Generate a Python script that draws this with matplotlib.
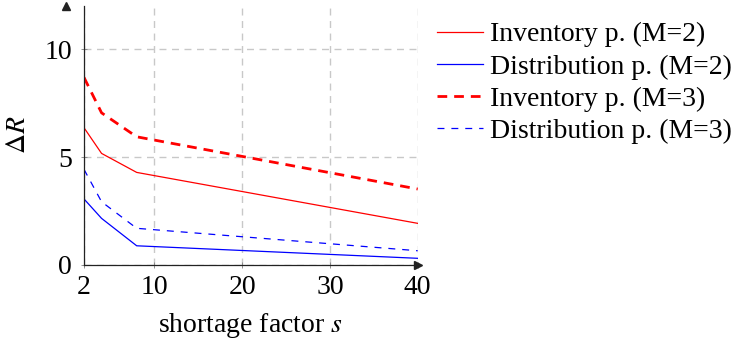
import matplotlib
matplotlib.use("Agg")
import matplotlib.pyplot as plt

plt.rcParams['font.family'] = ['Liberation Serif', 'DejaVu Serif']
plt.rcParams['mathtext.fontset'] = 'stix'
plt.rcParams['lines.scale_dashes'] = False

s_values = [2, 4, 8, 40]
inv_m2 = [6.36, 5.17, 4.29, 1.93]
dist_m2 = [3.06, 2.16, 0.89, 0.31]
inv_m3 = [8.69, 7.05, 5.94, 3.52]
dist_m3 = [4.43, 2.93, 1.70, 0.66]
labels = ["Inventory p. (M=2)", "Distribution p. (M=2)",
          "Inventory p. (M=3)", "Distribution p. (M=3)"]
x_ticks = [2, 10, 20, 30, 40]
y_ticks = [0, 5, 10]

FS = 20
fig = plt.figure(figsize=(7.45, 3.43), dpi=100)
ax_left, ax_right, ax_bottom_px, ax_top_px = 84, 417.7, 265, 6
ax = fig.add_axes([ax_left/745, (343-ax_bottom_px)/343, (ax_right-ax_left)/745,
                   (ax_bottom_px-ax_top_px)/343])

ax.plot(s_values, inv_m2, color='#ff0000', lw=0.9, label=labels[0])
ax.plot(s_values, dist_m2, color='#0000ff', lw=0.9, label=labels[1])
ax.plot(s_values, inv_m3, color='#ff0000', lw=2.0, dashes=(7, 5), label=labels[2])
ax.plot(s_values, dist_m3, color='#0000ff', lw=0.9, dashes=(5, 5), label=labels[3])

ax.set_xlim(2, 40)
ax.set_ylim(0, 12)
ax.set_xticks(x_ticks)
ax.set_yticks(y_ticks)
ax.set_xticklabels([str(t) for t in x_ticks])
ax.set_yticklabels([str(t) for t in y_ticks])
ax.tick_params(direction='inout', length=5, width=0.6, color='#808080', labelsize=FS)
ax.tick_params(axis='x', pad=5)
ax.tick_params(axis='y', pad=6)

for sp in ['top', 'right']:
    ax.spines[sp].set_visible(False)
for sp in ['left', 'bottom']:
    ax.spines[sp].set_linewidth(0.9)
    ax.spines[sp].set_color('#222222')

ax.grid(True, color='#c8c8c8', linestyle=(0, (5, 4)), linewidth=1.0)
ax.set_axisbelow(True)

ax.plot(1, 0, '>', color='#222222', markersize=6, transform=ax.get_yaxis_transform(), clip_on=False)
ax.plot(0, 1, '^', color='#222222', markersize=6, transform=ax.get_xaxis_transform(), clip_on=False)

h_px = ax_bottom_px - ax_top_px
w_px = ax_right - ax_left
ax.set_xlabel("shortage factor $s$", fontsize=FS, va='center')
ax.xaxis.set_label_coords(0.5, (ax_bottom_px - 326) / h_px)
ax.set_ylabel(r"$\Delta R$", fontsize=FS, va='center')
ax.yaxis.set_label_coords((18 - ax_left) / w_px, (ax_bottom_px - 135) / h_px)

leg = ax.legend(loc='upper left',
                bbox_to_anchor=(1 + (437 - ax_right) / w_px, 1 - (22 - ax_top_px) / h_px),
                frameon=False, fontsize=FS, handlelength=1.65, handletextpad=0.25,
                labelspacing=0.24, borderaxespad=0, borderpad=0)

fig.savefig("out.png", dpi=100)
